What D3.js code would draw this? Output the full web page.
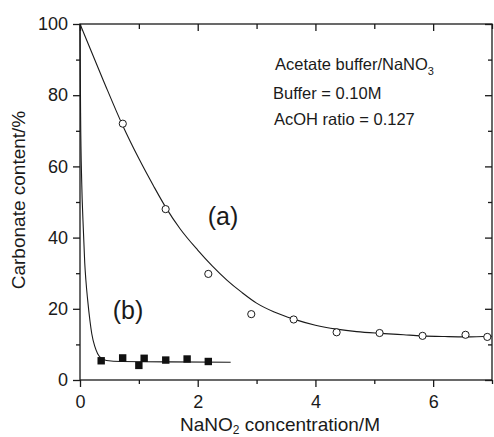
<!DOCTYPE html>
<html>
<head>
<meta charset="utf-8">
<script src="https://cdn.jsdelivr.net/npm/d3@7"></script>
<style>
  body { margin: 0; background: #fff; }
  text { font-family: "Liberation Sans", Arial, sans-serif; fill: #1a1a1a; }
</style>
</head>
<body>
<script>
// series (a): open circles + fitted line
var xA = [0.727, 1.455, 2.18, 2.91, 3.63, 4.36, 5.09, 5.82, 6.55, 6.92];
var yA = [72.0, 48.0, 29.8, 18.5, 17.0, 13.4, 13.2, 12.4, 12.7, 12.1];
var fitA = [
  [0, 100], [0.4, 84], [0.725, 71.5], [1.0, 62.2], [1.25, 54.5], [1.457, 48.5],
  [1.7, 42.5], [2.0, 36.5], [2.25, 32], [2.5, 28], [2.75, 24.6], [3.0, 21.6],
  [3.3, 19.1], [3.63, 17.1], [4.0, 15.4], [4.36, 14.3], [4.7, 13.6], [5.1, 13.1],
  [5.5, 12.7], [5.8, 12.4], [6.2, 12.2], [6.55, 12.1], [7.0, 12.3]
];

// series (b): filled squares + fitted line
var xB = [0.36, 0.725, 1.0, 1.09, 1.457, 1.82, 2.18];
var yB = [5.4, 6.2, 4.1, 6.1, 5.6, 5.9, 5.2];
var fitB = [
  [0, 100], [0.01, 75], [0.03, 55], [0.05, 45], [0.08, 33], [0.1, 28], [0.13, 22.5],
  [0.17, 16.5], [0.2, 13], [0.25, 9.5], [0.3, 7.4], [0.35, 6.3], [0.45, 5.5], [0.7, 5.2],
  [1.5, 5.1], [2.56, 5.0]
];

var xMajor = [0, 2, 4, 6];
var xMinor = [1, 3, 5, 7];
var yMajor = [0, 20, 40, 60, 80, 100];
var yMinor = [10, 30, 50, 70, 90];

var w = 494, h = 437;
var pLeft = 80, pRight = 492, pTop = 24, pBottom = 380;

var svg = d3.select("body").append("svg")
    .attr("width", w)
    .attr("height", h);

var xScale = d3.scaleLinear().domain([0, 7]).range([pLeft, pRight]);
var yScale = d3.scaleLinear().domain([0, 100]).range([pBottom, pTop]);

// frame
svg.append("rect")
    .attr("x", pLeft).attr("y", pTop)
    .attr("width", pRight - pLeft).attr("height", pBottom - pTop)
    .attr("fill", "none").attr("stroke", "#1a1a1a").attr("stroke-width", 1.3);

function styleAxis(g) {
  g.select(".domain").remove();
  g.selectAll(".tick line").attr("stroke", "#1a1a1a").attr("stroke-width", 1.3);
  g.selectAll("text").style("font-size", "18px").attr("fill", "#1a1a1a");
}

// bottom
svg.append("g").attr("transform", "translate(0," + pBottom + ")")
    .call(d3.axisBottom(xScale).tickValues(xMajor).tickSize(7).tickPadding(8).tickFormat(d3.format("d")))
    .call(styleAxis);
svg.append("g").attr("transform", "translate(0," + pBottom + ")")
    .call(d3.axisBottom(xScale).tickValues(xMinor).tickSize(4).tickFormat(""))
    .call(styleAxis);
// top (inward)
svg.append("g").attr("transform", "translate(0," + pTop + ")")
    .call(d3.axisBottom(xScale).tickValues(xMajor).tickSize(7).tickFormat(""))
    .call(styleAxis);
svg.append("g").attr("transform", "translate(0," + pTop + ")")
    .call(d3.axisBottom(xScale).tickValues(xMinor).tickSize(5).tickFormat(""))
    .call(styleAxis);
// left
svg.append("g").attr("transform", "translate(" + pLeft + ",0)")
    .call(d3.axisLeft(yScale).tickValues(yMajor).tickSize(7).tickPadding(5).tickFormat(d3.format("d")))
    .call(styleAxis);
svg.append("g").attr("transform", "translate(" + pLeft + ",0)")
    .call(d3.axisLeft(yScale).tickValues(yMinor).tickSize(4).tickFormat(""))
    .call(styleAxis);
// right (inward)
svg.append("g").attr("transform", "translate(" + pRight + ",0)")
    .call(d3.axisLeft(yScale).tickValues(yMajor).tickSize(7).tickFormat(""))
    .call(styleAxis);
svg.append("g").attr("transform", "translate(" + pRight + ",0)")
    .call(d3.axisLeft(yScale).tickValues(yMinor).tickSize(4).tickFormat(""))
    .call(styleAxis);

// fitted lines
var line = d3.line()
    .x(function(d) { return xScale(d[0]); })
    .y(function(d) { return yScale(d[1]); })
    .curve(d3.curveMonotoneX);

svg.append("path").datum(fitA)
    .attr("d", line).attr("fill", "none").attr("stroke", "#1a1a1a").attr("stroke-width", 1.1);
svg.append("path").datum(fitB)
    .attr("d", line).attr("fill", "none").attr("stroke", "#1a1a1a").attr("stroke-width", 1.1);

// points
svg.selectAll(".ptA")
    .data(xA.map(function(d, i) { return [d, yA[i]]; }))
    .enter().append("circle")
    .attr("class", "ptA")
    .attr("cx", function(d) { return xScale(d[0]); })
    .attr("cy", function(d) { return yScale(d[1]); })
    .attr("r", 3.6)
    .attr("fill", "#fff").attr("stroke", "#1a1a1a").attr("stroke-width", 1);

svg.selectAll(".ptB")
    .data(xB.map(function(d, i) { return [d, yB[i]]; }))
    .enter().append("rect")
    .attr("class", "ptB")
    .attr("x", function(d) { return xScale(d[0]) - 3.7; })
    .attr("y", function(d) { return yScale(d[1]) - 3.7; })
    .attr("width", 7.4).attr("height", 7.4)
    .attr("fill", "#111");

// labels
svg.append("text").attr("x", 223).attr("y", 225)
    .attr("text-anchor", "middle").style("font-size", "25px").text("(a)");
svg.append("text").attr("x", 128).attr("y", 319)
    .attr("text-anchor", "middle").style("font-size", "25px").text("(b)");

var note = svg.append("g").style("font-size", "16.5px");
var t1 = note.append("text").attr("x", 275).attr("y", 70);
t1.append("tspan").text("Acetate buffer/NaNO");
t1.append("tspan").attr("dy", 5).style("font-size", "11px").text("3");
note.append("text").attr("x", 273).attr("y", 99).text("Buffer = 0.10M");
note.append("text").attr("x", 274).attr("y", 125).text("AcOH ratio = 0.127");

// axis titles
var xt = svg.append("text").attr("x", 280).attr("y", 431)
    .attr("text-anchor", "middle").style("font-size", "19px");
xt.append("tspan").text("NaNO");
xt.append("tspan").attr("dy", 3).style("font-size", "12px").text("2");
xt.append("tspan").attr("dy", -3).text(" concentration/M");

svg.append("text")
    .attr("transform", "translate(25," + 200 + ")rotate(-90)")
    .attr("text-anchor", "middle").style("font-size", "19px")
    .text("Carbonate content/%");
</script>
</body>
</html>
